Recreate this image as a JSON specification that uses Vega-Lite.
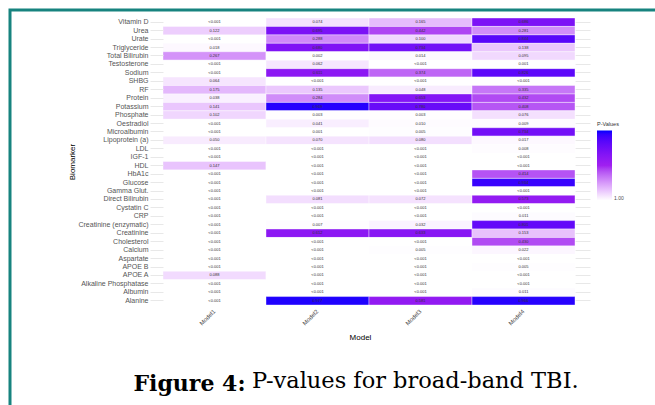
{
  "$schema": "https://vega.github.io/schema/vega-lite/v6.json",
  "autosize": "none",
  "padding": {"left": 10, "top": 10, "right": 0, "bottom": 0},
  "width": 660,
  "height": 405,
  "background": "white",
  "config": {
    "view": {"stroke": "#17837f", "strokeWidth": 3},
    "font": "Liberation Sans"
  },
  "title": {
    "text": "P-values for broad-band TBI.",
    "orient": "bottom",
    "anchor": "start",
    "frame": "group",
    "dx": 242,
    "offset": -27,
    "baseline": "alphabetic",
    "font": "DejaVu Serif",
    "fontSize": 22.5,
    "fontWeight": "normal",
    "color": "black"
  },
  "data": {
    "values": [
      {"b": "Vitamin D", "m": "Model1", "p": 0, "t": "<0.001"},
      {"b": "Vitamin D", "m": "Model2", "p": 0.074, "t": "0.074"},
      {"b": "Vitamin D", "m": "Model3", "p": 0.165, "t": "0.165"},
      {"b": "Vitamin D", "m": "Model4", "p": 0.686, "t": "0.686"},
      {"b": "Urea", "m": "Model1", "p": 0.122, "t": "0.122"},
      {"b": "Urea", "m": "Model2", "p": 0.695, "t": "0.695"},
      {"b": "Urea", "m": "Model3", "p": 0.442, "t": "0.442"},
      {"b": "Urea", "m": "Model4", "p": 0.281, "t": "0.281"},
      {"b": "Urate", "m": "Model1", "p": 0, "t": "<0.001"},
      {"b": "Urate", "m": "Model2", "p": 0.288, "t": "0.288"},
      {"b": "Urate", "m": "Model3", "p": 0.1, "t": "0.100"},
      {"b": "Urate", "m": "Model4", "p": 0.844, "t": "0.844"},
      {"b": "Triglyceride", "m": "Model1", "p": 0.018, "t": "0.018"},
      {"b": "Triglyceride", "m": "Model2", "p": 0.68, "t": "0.680"},
      {"b": "Triglyceride", "m": "Model3", "p": 0.734, "t": "0.734"},
      {"b": "Triglyceride", "m": "Model4", "p": 0.138, "t": "0.138"},
      {"b": "Total Bilirubin", "m": "Model1", "p": 0.267, "t": "0.267"},
      {"b": "Total Bilirubin", "m": "Model2", "p": 0.002, "t": "0.002"},
      {"b": "Total Bilirubin", "m": "Model3", "p": 0.014, "t": "0.014"},
      {"b": "Total Bilirubin", "m": "Model4", "p": 0.095, "t": "0.095"},
      {"b": "Testosterone", "m": "Model1", "p": 0, "t": "<0.001"},
      {"b": "Testosterone", "m": "Model2", "p": 0.062, "t": "0.062"},
      {"b": "Testosterone", "m": "Model3", "p": 0, "t": "<0.001"},
      {"b": "Testosterone", "m": "Model4", "p": 0.001, "t": "0.001"},
      {"b": "Sodium", "m": "Model1", "p": 0, "t": "<0.001"},
      {"b": "Sodium", "m": "Model2", "p": 0.611, "t": "0.611"},
      {"b": "Sodium", "m": "Model3", "p": 0.374, "t": "0.374"},
      {"b": "Sodium", "m": "Model4", "p": 0.826, "t": "0.826"},
      {"b": "SHBG", "m": "Model1", "p": 0.064, "t": "0.064"},
      {"b": "SHBG", "m": "Model2", "p": 0, "t": "<0.001"},
      {"b": "SHBG", "m": "Model3", "p": 0, "t": "<0.001"},
      {"b": "SHBG", "m": "Model4", "p": 0, "t": "<0.001"},
      {"b": "RF", "m": "Model1", "p": 0.175, "t": "0.175"},
      {"b": "RF", "m": "Model2", "p": 0.135, "t": "0.135"},
      {"b": "RF", "m": "Model3", "p": 0.048, "t": "0.048"},
      {"b": "RF", "m": "Model4", "p": 0.335, "t": "0.335"},
      {"b": "Protein", "m": "Model1", "p": 0.038, "t": "0.038"},
      {"b": "Protein", "m": "Model2", "p": 0.284, "t": "0.284"},
      {"b": "Protein", "m": "Model3", "p": 0.653, "t": "0.653"},
      {"b": "Protein", "m": "Model4", "p": 0.432, "t": "0.432"},
      {"b": "Potassium", "m": "Model1", "p": 0.141, "t": "0.141"},
      {"b": "Potassium", "m": "Model2", "p": 0.969, "t": "0.969"},
      {"b": "Potassium", "m": "Model3", "p": 0.78, "t": "0.780"},
      {"b": "Potassium", "m": "Model4", "p": 0.408, "t": "0.408"},
      {"b": "Phosphate", "m": "Model1", "p": 0.102, "t": "0.102"},
      {"b": "Phosphate", "m": "Model2", "p": 0.003, "t": "0.003"},
      {"b": "Phosphate", "m": "Model3", "p": 0.003, "t": "0.003"},
      {"b": "Phosphate", "m": "Model4", "p": 0.076, "t": "0.076"},
      {"b": "Oestradiol", "m": "Model1", "p": 0, "t": "<0.001"},
      {"b": "Oestradiol", "m": "Model2", "p": 0.041, "t": "0.041"},
      {"b": "Oestradiol", "m": "Model3", "p": 0.01, "t": "0.010"},
      {"b": "Oestradiol", "m": "Model4", "p": 0.009, "t": "0.009"},
      {"b": "Microalbumin", "m": "Model1", "p": 0, "t": "<0.001"},
      {"b": "Microalbumin", "m": "Model2", "p": 0.001, "t": "0.001"},
      {"b": "Microalbumin", "m": "Model3", "p": 0.005, "t": "0.005"},
      {"b": "Microalbumin", "m": "Model4", "p": 0.734, "t": "0.734"},
      {"b": "Lipoprotein (a)", "m": "Model1", "p": 0.05, "t": "0.050"},
      {"b": "Lipoprotein (a)", "m": "Model2", "p": 0.07, "t": "0.070"},
      {"b": "Lipoprotein (a)", "m": "Model3", "p": 0.08, "t": "0.080"},
      {"b": "Lipoprotein (a)", "m": "Model4", "p": 0.017, "t": "0.017"},
      {"b": "LDL", "m": "Model1", "p": 0, "t": "<0.001"},
      {"b": "LDL", "m": "Model2", "p": 0, "t": "<0.001"},
      {"b": "LDL", "m": "Model3", "p": 0, "t": "<0.001"},
      {"b": "LDL", "m": "Model4", "p": 0.008, "t": "0.008"},
      {"b": "IGF-1", "m": "Model1", "p": 0, "t": "<0.001"},
      {"b": "IGF-1", "m": "Model2", "p": 0, "t": "<0.001"},
      {"b": "IGF-1", "m": "Model3", "p": 0, "t": "<0.001"},
      {"b": "IGF-1", "m": "Model4", "p": 0, "t": "<0.001"},
      {"b": "HDL", "m": "Model1", "p": 0.147, "t": "0.147"},
      {"b": "HDL", "m": "Model2", "p": 0, "t": "<0.001"},
      {"b": "HDL", "m": "Model3", "p": 0, "t": "<0.001"},
      {"b": "HDL", "m": "Model4", "p": 0, "t": "<0.001"},
      {"b": "HbA1c", "m": "Model1", "p": 0, "t": "<0.001"},
      {"b": "HbA1c", "m": "Model2", "p": 0, "t": "<0.001"},
      {"b": "HbA1c", "m": "Model3", "p": 0, "t": "<0.001"},
      {"b": "HbA1c", "m": "Model4", "p": 0.414, "t": "0.414"},
      {"b": "Glucose", "m": "Model1", "p": 0, "t": "<0.001"},
      {"b": "Glucose", "m": "Model2", "p": 0, "t": "<0.001"},
      {"b": "Glucose", "m": "Model3", "p": 0, "t": "<0.001"},
      {"b": "Glucose", "m": "Model4", "p": 0.934, "t": "0.934"},
      {"b": "Gamma Glut.", "m": "Model1", "p": 0, "t": "<0.001"},
      {"b": "Gamma Glut.", "m": "Model2", "p": 0, "t": "<0.001"},
      {"b": "Gamma Glut.", "m": "Model3", "p": 0, "t": "<0.001"},
      {"b": "Gamma Glut.", "m": "Model4", "p": 0, "t": "<0.001"},
      {"b": "Direct Bilirubin", "m": "Model1", "p": 0, "t": "<0.001"},
      {"b": "Direct Bilirubin", "m": "Model2", "p": 0.081, "t": "0.081"},
      {"b": "Direct Bilirubin", "m": "Model3", "p": 0.072, "t": "0.072"},
      {"b": "Direct Bilirubin", "m": "Model4", "p": 0.573, "t": "0.573"},
      {"b": "Cystatin C", "m": "Model1", "p": 0, "t": "<0.001"},
      {"b": "Cystatin C", "m": "Model2", "p": 0, "t": "<0.001"},
      {"b": "Cystatin C", "m": "Model3", "p": 0, "t": "<0.001"},
      {"b": "Cystatin C", "m": "Model4", "p": 0, "t": "<0.001"},
      {"b": "CRP", "m": "Model1", "p": 0, "t": "<0.001"},
      {"b": "CRP", "m": "Model2", "p": 0, "t": "<0.001"},
      {"b": "CRP", "m": "Model3", "p": 0, "t": "<0.001"},
      {"b": "CRP", "m": "Model4", "p": 0.011, "t": "0.011"},
      {"b": "Creatinine (enzymatic)", "m": "Model1", "p": 0, "t": "<0.001"},
      {"b": "Creatinine (enzymatic)", "m": "Model2", "p": 0.007, "t": "0.007"},
      {"b": "Creatinine (enzymatic)", "m": "Model3", "p": 0.032, "t": "0.032"},
      {"b": "Creatinine (enzymatic)", "m": "Model4", "p": 0.801, "t": "0.801"},
      {"b": "Creatinine", "m": "Model1", "p": 0, "t": "<0.001"},
      {"b": "Creatinine", "m": "Model2", "p": 0.612, "t": "0.612"},
      {"b": "Creatinine", "m": "Model3", "p": 0.633, "t": "0.633"},
      {"b": "Creatinine", "m": "Model4", "p": 0.153, "t": "0.153"},
      {"b": "Cholesterol", "m": "Model1", "p": 0, "t": "<0.001"},
      {"b": "Cholesterol", "m": "Model2", "p": 0, "t": "<0.001"},
      {"b": "Cholesterol", "m": "Model3", "p": 0, "t": "<0.001"},
      {"b": "Cholesterol", "m": "Model4", "p": 0.43, "t": "0.430"},
      {"b": "Calcium", "m": "Model1", "p": 0, "t": "<0.001"},
      {"b": "Calcium", "m": "Model2", "p": 0, "t": "<0.001"},
      {"b": "Calcium", "m": "Model3", "p": 0.005, "t": "0.005"},
      {"b": "Calcium", "m": "Model4", "p": 0.022, "t": "0.022"},
      {"b": "Aspartate", "m": "Model1", "p": 0, "t": "<0.001"},
      {"b": "Aspartate", "m": "Model2", "p": 0, "t": "<0.001"},
      {"b": "Aspartate", "m": "Model3", "p": 0, "t": "<0.001"},
      {"b": "Aspartate", "m": "Model4", "p": 0, "t": "<0.001"},
      {"b": "APOE B", "m": "Model1", "p": 0, "t": "<0.001"},
      {"b": "APOE B", "m": "Model2", "p": 0, "t": "<0.001"},
      {"b": "APOE B", "m": "Model3", "p": 0, "t": "<0.001"},
      {"b": "APOE B", "m": "Model4", "p": 0.005, "t": "0.005"},
      {"b": "APOE A", "m": "Model1", "p": 0.088, "t": "0.088"},
      {"b": "APOE A", "m": "Model2", "p": 0, "t": "<0.001"},
      {"b": "APOE A", "m": "Model3", "p": 0, "t": "<0.001"},
      {"b": "APOE A", "m": "Model4", "p": 0, "t": "<0.001"},
      {"b": "Alkaline Phosphatase", "m": "Model1", "p": 0, "t": "<0.001"},
      {"b": "Alkaline Phosphatase", "m": "Model2", "p": 0, "t": "<0.001"},
      {"b": "Alkaline Phosphatase", "m": "Model3", "p": 0, "t": "<0.001"},
      {"b": "Alkaline Phosphatase", "m": "Model4", "p": 0, "t": "<0.001"},
      {"b": "Albumin", "m": "Model1", "p": 0, "t": "<0.001"},
      {"b": "Albumin", "m": "Model2", "p": 0, "t": "<0.001"},
      {"b": "Albumin", "m": "Model3", "p": 0, "t": "<0.001"},
      {"b": "Albumin", "m": "Model4", "p": 0.011, "t": "0.011"},
      {"b": "Alanine", "m": "Model1", "p": 0, "t": "<0.001"},
      {"b": "Alanine", "m": "Model2", "p": 0.977, "t": "0.977"},
      {"b": "Alanine", "m": "Model3", "p": 0.581, "t": "0.581"},
      {"b": "Alanine", "m": "Model4", "p": 0.966, "t": "0.966"}
    ]
  },
  "layer": [
    {
      "mark": {"type": "rect", "stroke": "white", "strokeWidth": 0.4},
      "encoding": {
        "x": {
          "field": "m", "type": "nominal",
          "scale": {"paddingInner": 0, "paddingOuter": 0, "range": [153, 565]},
          "axis": {
            "orient": "bottom", "offset": -110, "domain": false, "ticks": false,
            "labelAngle": -45, "labelAlign": "right", "labelBaseline": "middle",
            "labelFontSize": 6, "labelColor": "#4d4d4d", "labelPadding": 5,
            "title": "Model", "titleFontSize": 8, "titleFontWeight": "normal", "titleColor": "black",
            "titleX": 350, "titleY": 32, "titleBaseline": "middle"
          }
        },
        "y": {
          "field": "b", "type": "nominal",
          "sort": ["Vitamin D","Urea","Urate","Triglyceride","Total Bilirubin","Testosterone","Sodium","SHBG","RF","Protein","Potassium","Phosphate","Oestradiol","Microalbumin","Lipoprotein (a)","LDL","IGF-1","HDL","HbA1c","Glucose","Gamma Glut.","Direct Bilirubin","Cystatin C","CRP","Creatinine (enzymatic)","Creatinine","Cholesterol","Calcium","Aspartate","APOE B","APOE A","Alkaline Phosphatase","Albumin","Alanine"],
          "scale": {"paddingInner": 0, "paddingOuter": 0, "range": [8, 295]},
          "axis": {
            "orient": "left", "offset": -153, "domain": false, "ticks": true,
            "tickSize": 13, "tickColor": "#e8e8e8", "tickWidth": 1,
            "labelFontSize": 7, "labelColor": "#555555", "labelPadding": 2,
            "title": "Biomarker", "titleFontSize": 8, "titleFontWeight": "normal", "titleColor": "black",
            "titleX": -91, "titleY": 151.5, "titleBaseline": "middle"
          }
        },
        "color": {
          "field": "p", "type": "quantitative",
          "scale": {"domain": [0, 0.5, 1], "range": ["#ffffff", "#a020f0", "#0000ff"], "interpolate": "lab"},
          "legend": {
            "title": "P-Values", "orient": "none", "legendX": 587, "legendY": 112,
            "direction": "vertical", "gradientLength": 70, "gradientThickness": 15,
            "titleFontSize": 5.5, "titleFontWeight": "normal", "titleColor": "#333333", "titlePadding": 3,
            "labelFontSize": 5, "labelColor": "#4d4d4d", "values": [0], "labelExpr": "'1.00'",
            "gradientStrokeWidth": 0
          }
        }
      }
    },
    {
      "mark": {"type": "text", "fontSize": 4, "color": "#333333"},
      "encoding": {
        "x": {
          "field": "m", "type": "nominal",
          "axis": {
            "orient": "bottom", "offset": -110, "domain": false, "ticks": false, "labels": false, "grid": false,
            "title": "Figure 4:", "titleFont": "DejaVu Serif", "titleFontWeight": "bold", "titleFontSize": 22,
            "titleColor": "black", "titleX": 235, "titleY": 85, "titleAlign": "right",
            "titleBaseline": "alphabetic", "titleAngle": 0
          }
        },
        "y": {
          "field": "b", "type": "nominal",
          "sort": ["Vitamin D","Urea","Urate","Triglyceride","Total Bilirubin","Testosterone","Sodium","SHBG","RF","Protein","Potassium","Phosphate","Oestradiol","Microalbumin","Lipoprotein (a)","LDL","IGF-1","HDL","HbA1c","Glucose","Gamma Glut.","Direct Bilirubin","Cystatin C","CRP","Creatinine (enzymatic)","Creatinine","Cholesterol","Calcium","Aspartate","APOE B","APOE A","Alkaline Phosphatase","Albumin","Alanine"],
          "axis": {
            "orient": "right", "offset": -95, "domain": false, "ticks": true,
            "tickSize": 15, "tickColor": "#e8e8e8", "tickWidth": 1,
            "labels": false, "title": null
          }
        },
        "text": {"field": "t"}
      }
    }
  ],
  "resolve": {"axis": {"x": "independent", "y": "independent"}}
}
